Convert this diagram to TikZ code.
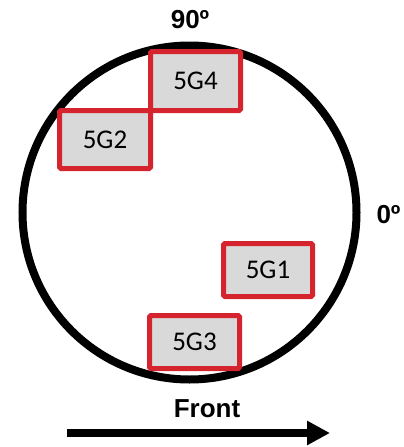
\documentclass[tikz,border=0pt]{standalone}
\usepackage{fontspec}
\setmainfont{Liberation Sans}
\newfontfamily\boxfont{Carlito}
\usetikzlibrary{arrows.meta}
\definecolor{boxred}{RGB}{214,36,46}
\definecolor{boxgray}{RGB}{217,217,217}
\begin{document}
\begin{tikzpicture}[x=1pt,y=-1pt,
  gbox/.style={draw=boxred,fill=boxgray,line width=5pt,rounded corners=1.5pt,
    inner sep=0pt,font=\boxfont\fontsize{27}{30}\selectfont},
  lbl/.style={inner sep=0pt,font=\bfseries\fontsize{26}{30}\selectfont}]
\useasboundingbox (0,0) rectangle (404,447);
\node[circle,draw=black,line width=8pt,minimum size=334pt,inner sep=0pt] (ring) at (189.5,212.5) {};
\node[gbox,minimum width=91pt,minimum height=58pt] (g2) at (105,139.5) {5G2};
\node[gbox,minimum width=90pt,minimum height=59pt] (g4) at (195.5,81) {5G4};
\node[gbox,minimum width=89pt,minimum height=53pt] (g1) at (268,270) {5G1};
\node[gbox,minimum width=90pt,minimum height=53pt] (g3) at (194.5,342) {5G3};
\node[lbl,anchor=base] (l90) at (190,28) {90º};
\node[lbl,anchor=base] (l0) at (388.5,223) {0º};
\node[lbl,anchor=base] (front) at (207,417) {Front};
\coordinate (as) at (67,433);
\coordinate (ae) at (330,433);
\draw[line width=8pt,-{Triangle[length=23pt,width=23pt]}] (as) -- (ae);
\end{tikzpicture}
\end{document}
